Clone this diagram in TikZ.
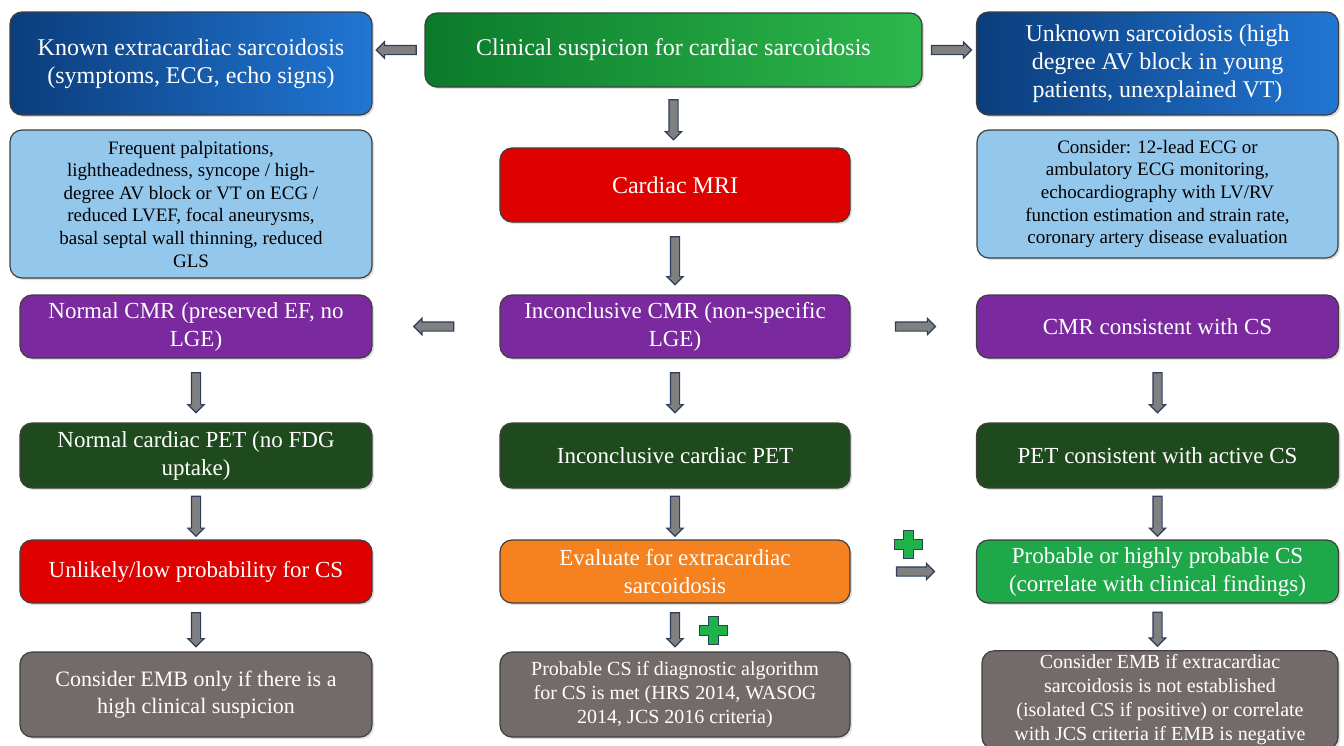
\documentclass[tikz,border=0pt]{standalone}
\usepackage{fontspec}
\setmainfont{Liberation Serif}
\usepackage{tikz}
\usetikzlibrary{shapes.arrows,shadows,positioning,calc}
\definecolor{boxline}{HTML}{3F3F3F}
\definecolor{arrline}{HTML}{2E3F5E}
\definecolor{arrfill}{HTML}{808080}
\definecolor{blueL}{HTML}{0B3D7C}
\definecolor{blueR}{HTML}{2176D4}
\definecolor{greenL}{HTML}{0B7A2B}
\definecolor{greenR}{HTML}{2DB84C}
\definecolor{lightblue}{HTML}{94C7EC}
\definecolor{mrired}{HTML}{DF0000}
\definecolor{purp}{HTML}{7A2A9E}
\definecolor{darkgreen}{HTML}{1F4A1D}
\definecolor{orng}{HTML}{F5821F}
\definecolor{probgreen}{HTML}{1EA84A}
\definecolor{greybox}{HTML}{736B69}
\definecolor{plusgreen}{HTML}{1DB34A}

\begin{document}
\begin{tikzpicture}[x=0.5pt,y=-0.5pt,
  box/.style={draw=boxline, line width=0.6pt, rounded corners=6pt, align=center,
    text=white, inner sep=2pt, font=\fontsize{11.5}{14}\selectfont,
    drop shadow={opacity=0.25, shadow xshift=1pt, shadow yshift=-1pt}},
  widebox/.style={box, minimum width=181pt},
  midbox/.style={box, minimum width=175pt},
  lowbox/.style={box, minimum width=176pt},
  bluebox/.style={box, left color=blueL, right color=blueR, minimum width=181pt, minimum height=51.5pt, font=\fontsize{12}{14}\selectfont},
  infobox/.style={box, fill=lightblue, text=black, font=\fontsize{9.5}{11.3}\selectfont},
  darr/.style={single arrow, draw=arrline, fill=arrfill, line width=0.6pt, inner sep=2pt,
    single arrow head extend=1.8pt, minimum height=20pt, shape border rotate=270},
  larr/.style={darr, shape border rotate=180},
  rarr/.style={darr, shape border rotate=0},
  greenplus/.pic={
    \draw[fill=plusgreen, draw=arrline, line width=0.5pt]
      (-5,-14) -- (5,-14) -- (5,-5) -- (14,-5) -- (14,5) -- (5,5) -- (5,14)
      -- (-5,14) -- (-5,5) -- (-14,5) -- (-14,-5) -- (-5,-5) -- cycle;
  }]
  \useasboundingbox (0,0) rectangle (1344,745);

  % top row
  \node[bluebox] (known) at (191,63.5) {Known extracardiac sarcoidosis\\(symptoms, ECG, echo signs)};
  \node[box, left color=greenL, right color=greenR, minimum width=248.5pt, minimum height=37pt,
    font=\fontsize{12}{14}\selectfont] (clin) at (673.5,50) {Clinical suspicion for cardiac sarcoidosis};
  \node[bluebox] (unknown) at (1157.5,63.5) {Unknown sarcoidosis (high\\degree AV block in young\\patients, unexplained VT)};

  % second row
  \node[infobox, minimum width=181pt, minimum height=74pt] (sympt) at (191,204)
    {Frequent palpitations,\\lightheadedness, syncope / high-\\degree AV block or VT on ECG /\\reduced LVEF, focal aneurysms,\\basal septal wall thinning, reduced\\GLS};
  \node[midbox, fill=mrired, minimum height=37pt, font=\fontsize{12}{14}\selectfont] (mri) at (675,185) {Cardiac MRI};
  \node[infobox, minimum width=180.5pt, minimum height=64pt] (cons) at (1157.5,194)
    {Consider: 12-lead ECG or\\ambulatory ECG monitoring,\\echocardiography with LV/RV\\function estimation and strain rate,\\coronary artery disease evaluation};

  % CMR row
  \node[lowbox, fill=purp, minimum height=31.5pt] (normcmr) at (196,326.5) {Normal CMR (preserved EF, no\\LGE)};
  \node[midbox, fill=purp, minimum height=31.5pt] (inccmr) at (675,326.5) {Inconclusive CMR (non-specific\\LGE)};
  \node[widebox, fill=purp, minimum height=31.5pt] (cmrcs) at (1157.5,326.5) {CMR consistent with CS};

  % PET row
  \node[lowbox, fill=darkgreen, minimum height=32.5pt] (normpet) at (196,455.5) {Normal cardiac PET (no FDG\\uptake)};
  \node[midbox, fill=darkgreen, minimum height=32.5pt] (incpet) at (675,455.5) {Inconclusive cardiac PET};
  \node[widebox, fill=darkgreen, minimum height=32.5pt] (petcs) at (1157.5,455.5) {PET consistent with active CS};

  % result row
  \node[lowbox, fill=mrired, minimum height=31.5pt] (unlikely) at (196,571.5) {Unlikely/low probability for CS};
  \node[midbox, fill=orng, minimum height=31.5pt] (evaluate) at (675,571.5) {Evaluate for extracardiac\\sarcoidosis};
  \node[widebox, fill=probgreen, minimum height=31.5pt] (probable) at (1157.5,571.5) {Probable or highly probable CS\\(correlate with clinical findings)};

  % bottom row
  \node[lowbox, fill=greybox, minimum height=42.5pt, font=\fontsize{11}{13.5}\selectfont] (embonly) at (196,694.5)
    {Consider EMB only if there is a\\high clinical suspicion};
  \node[midbox, fill=greybox, minimum height=42.5pt, font=\fontsize{10}{12}\selectfont] (probcs) at (675,694.5)
    {Probable CS if diagnostic algorithm\\for CS is met (HRS 2014, WASOG\\2014, JCS 2016 criteria)};
  \node[box, fill=greybox, minimum width=178pt, minimum height=48pt, font=\fontsize{10}{12}\selectfont] (embif) at (1160,700)
    {Consider EMB if extracardiac\\sarcoidosis is not established\\(isolated CS if positive) or correlate\\with JCS criteria if EMB is negative};

  % arrows
  \path (clin.west) -- (clin.west -| known.east) node[midway, larr] {};
  \path (clin.east) -- (clin.east -| unknown.west) node[midway, rarr] {};
  \path (clin.south) -- (clin.south |- mri.north) node[midway, darr] {};
  \path (mri.south) -- (inccmr.north) node[midway, darr, minimum height=24pt] {};
  \path (inccmr.west) -- (normcmr.east) node[midway, larr] {};
  \path (inccmr.east) -- (cmrcs.west) node[midway, rarr] {};
  \path (normcmr.south) -- (normpet.north) node[midway, darr] {};
  \path (inccmr.south) -- (incpet.north) node[midway, darr] {};
  \path (cmrcs.south) -- (petcs.north) node[midway, darr] {};
  \path (normpet.south) -- (unlikely.north) node[midway, darr] {};
  \path (incpet.south) -- (evaluate.north) node[midway, darr] {};
  \path (petcs.south) -- (probable.north) node[midway, darr] {};
  \path (evaluate.east) -- (probable.west) node[midway, rarr, minimum height=19pt] {};
  \path (unlikely.south) -- (embonly.north) node[midway, darr, minimum height=17pt] {};
  \path (evaluate.south) -- (probcs.north) node[midway, darr, minimum height=17pt] {};
  \path (probable.south) -- (probable.south |- embif.north) node[midway, darr, minimum height=17pt] {};

  % plus signs
  \pic at (908,544) {greenplus};
  \pic at (713,630) {greenplus};
\end{tikzpicture}
\end{document}
